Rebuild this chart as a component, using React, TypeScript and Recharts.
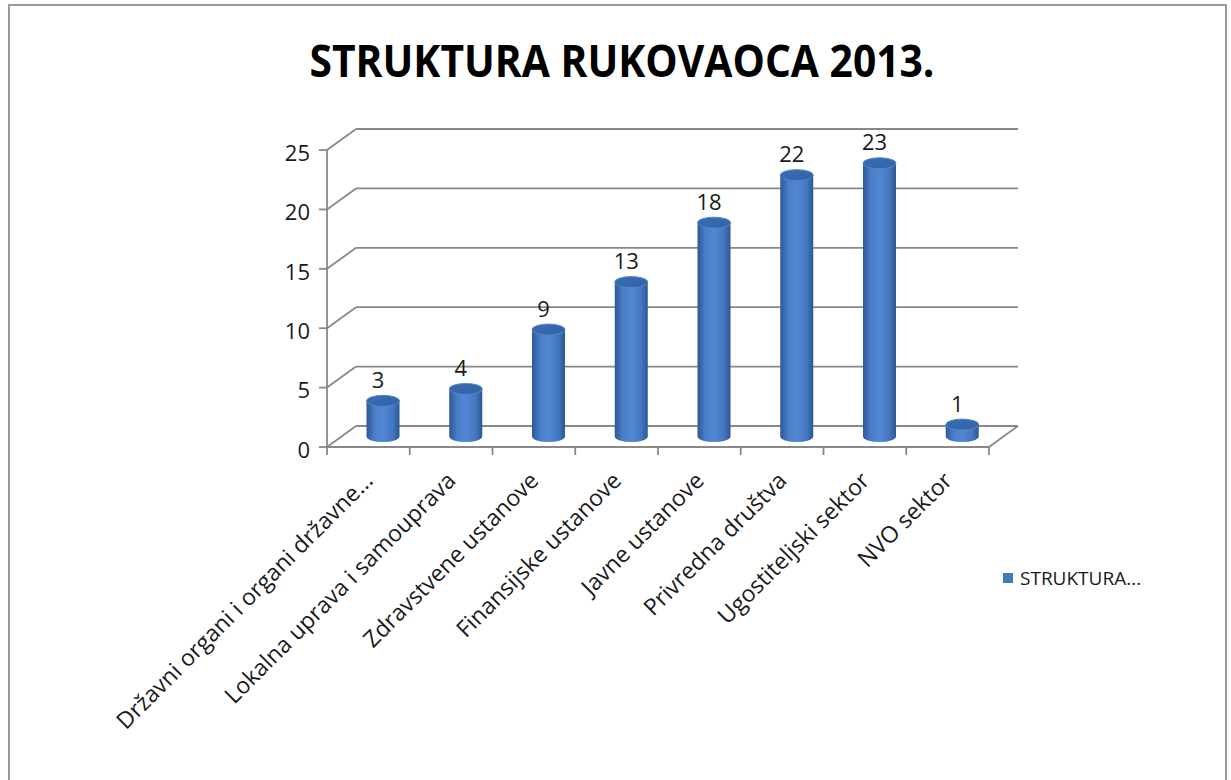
import React from 'react';
import { BarChart, Bar, XAxis, YAxis, CartesianGrid, LabelList } from 'recharts';

const categories = [
  'Državni organi i organi državne...',
  'Lokalna uprava i samouprava',
  'Zdravstvene ustanove',
  'Finansijske ustanove',
  'Javne ustanove',
  'Privredna društva',
  'Ugostiteljski sektor',
  'NVO sektor',
];
const values = [3, 4, 9, 13, 18, 22, 23, 1];
const yTicks = [0, 5, 10, 15, 20, 25];
const seriesName = 'STRUKTURA...';
const title = 'STRUKTURA RUKOVAOCA 2013.';

const data = categories.map((c, i) => ({ name: c, value: values[i] }));

const W = 1231;
const H = 780;
const MARGIN = { top: 150, right: 242, bottom: 233, left: 267 };
const Y_AXIS_W = 60;
const X_AXIS_H = 100;
const PLOT_LEFT = MARGIN.left + Y_AXIS_W;
const PLOT_RIGHT = W - MARGIN.right;
const PLOT_BOTTOM = H - MARGIN.bottom - X_AXIS_H;
const STEP = (PLOT_RIGHT - PLOT_LEFT) / categories.length;
const DX = 29;
const DY = -21;
const GRID = '#888888';
const FONT = '"Open Sans", "Noto Sans", sans-serif';

const GridLine = (props: any) => {
  const { x1, y1, x2, y2, y, height } = props;
  const isFloor = Math.abs(y1 - (y + height)) < 1;
  return (
    <g>
      <line x1={x1} y1={y1} x2={x1 + DX} y2={y1 + DY} stroke={GRID} strokeWidth={1.8} />
      <line x1={x1 + DX} y1={y1 + DY} x2={x2 + DX} y2={y2 + DY} stroke={GRID} strokeWidth={1.8} />
      {isFloor && (
        <line x1={x2} y1={y2} x2={x2 + DX} y2={y2 + DY} stroke={GRID} strokeWidth={1.8} />
      )}
    </g>
  );
};

const Cylinder = (props: any) => {
  const { x, y, width, height, index } = props;
  if (width == null || height == null) return null;
  const rx = width / 2;
  const ry = 5.5;
  const cx = x + width / 2 + DX / 2;
  const left = cx - rx;
  const right = cx + rx;
  const top = y + DY / 2;
  const bottom = y + height + DY / 2;
  const gid = `cylGrad${index}`;
  const tid = `cylTop${index}`;
  return (
    <g>
      <defs>
        <linearGradient id={gid} x1="0" y1="0" x2="1" y2="0">
          <stop offset="0%" stopColor="#2d5894" />
          <stop offset="25%" stopColor="#4a7fc8" />
          <stop offset="50%" stopColor="#5288d2" />
          <stop offset="80%" stopColor="#4377c0" />
          <stop offset="100%" stopColor="#2c5793" />
        </linearGradient>
        <linearGradient id={tid} x1="0" y1="0" x2="1" y2="1">
          <stop offset="0%" stopColor="#3b6db3" />
          <stop offset="100%" stopColor="#3062a6" />
        </linearGradient>
      </defs>
      <path
        d={`M${left},${top} L${left},${bottom} A${rx},${ry} 0 0 0 ${right},${bottom} L${right},${top} Z`}
        fill={`url(#${gid})`}
      />
      <ellipse cx={cx} cy={top} rx={rx} ry={ry} fill={`url(#${tid})`} stroke="#5585c8" strokeWidth={1} />
    </g>
  );
};

const ValueLabel = (props: any) => {
  const { x, y, width, value } = props;
  const cx = x + width / 2 + DX / 2 - 5;
  const ty = y + DY / 2 - 13;
  return (
    <text x={cx} y={ty} textAnchor="middle" fontSize={22} fontFamily={FONT} fill="#1a1a1a">
      {value}
    </text>
  );
};

const CategoryTick = (props: any) => {
  const { x, payload, index } = props;
  const ax = x + 6;
  const ay = PLOT_BOTTOM + 35;
  const leftTick = x - STEP / 2;
  return (
    <g>
      <line x1={leftTick} y1={PLOT_BOTTOM} x2={leftTick} y2={PLOT_BOTTOM + 8} stroke={GRID} strokeWidth={1.8} />
      {index === categories.length - 1 && (
        <line x1={x + STEP / 2} y1={PLOT_BOTTOM} x2={x + STEP / 2} y2={PLOT_BOTTOM + 8} stroke={GRID} strokeWidth={1.8} />
      )}
      <text
        x={ax}
        y={ay}
        textAnchor="end"
        fontSize={23}
        fontFamily={FONT}
        fill="#1a1a1a"
        transform={`rotate(-45, ${ax}, ${ay})`}
      >
        {payload.value}
      </text>
    </g>
  );
};

export default function App() {
  return (
    <div style={{ position: 'absolute', left: 0, top: 0, width: W, height: H, background: '#fff', overflow: 'hidden' }}>
      <div
        style={{
          position: 'absolute',
          left: 8,
          top: 4,
          width: 1219,
          height: 790,
          border: '2px solid #9a9a9a',
          boxSizing: 'border-box',
        }}
      />
      <svg width={W} height={H} style={{ position: 'absolute', left: 0, top: 0 }}>
        <text
          x={622}
          y={77}
          textAnchor="middle"
          fontSize={45}
          fontWeight={700}
          fontFamily={FONT}
          fill="#000"
          textLength={625}
          lengthAdjust="spacingAndGlyphs"
        >
          {title}
        </text>
      </svg>
      <div style={{ position: 'absolute', left: 0, top: 0 }}>
        <BarChart width={W} height={H} data={data} margin={MARGIN}>
          <CartesianGrid horizontal={GridLine} vertical={false} />
          <XAxis
            dataKey="name"
            height={X_AXIS_H}
            interval={0}
            axisLine={{ stroke: GRID, strokeWidth: 1.8 }}
            tickLine={false}
            tick={<CategoryTick />}
          />
          <YAxis
            domain={[0, 25]}
            ticks={yTicks}
            width={Y_AXIS_W}
            axisLine={{ stroke: GRID, strokeWidth: 1.8 }}
            tickLine={{ stroke: GRID, strokeWidth: 1.8 }}
            tickSize={8}
            tickMargin={9}
            tick={{ fontSize: 22, fontFamily: FONT, fill: '#1a1a1a', dy: 3 }}
          />
          <Bar dataKey="value" name={seriesName} barSize={33} shape={<Cylinder />} isAnimationActive={false}>
            <LabelList dataKey="value" content={<ValueLabel />} />
          </Bar>
        </BarChart>
      </div>
      <div
        style={{
          position: 'absolute',
          left: 1003,
          top: 565,
          display: 'flex',
          alignItems: 'center',
          fontFamily: FONT,
          fontSize: 19,
          color: '#1a1a1a',
        }}
      >
        <span style={{ display: 'inline-block', width: 10, height: 10, background: '#4677bd', marginRight: 7 }} />
        <span>{seriesName}</span>
      </div>
    </div>
  );
}
